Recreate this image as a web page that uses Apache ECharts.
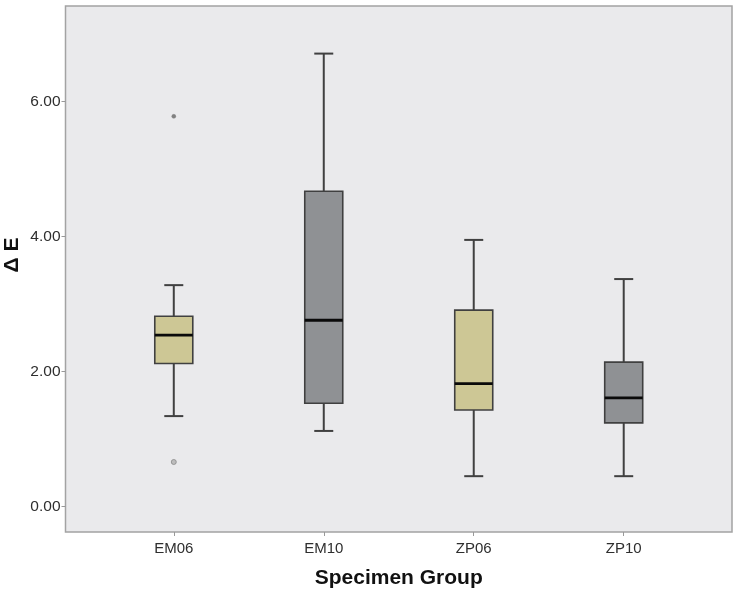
<!DOCTYPE html>
<html>
<head>
<meta charset="utf-8">
<script src="https://cdn.jsdelivr.net/npm/echarts@6/dist/echarts.min.js"></script>
<style>
html,body{margin:0;padding:0;background:#fff;}
#chart{width:738px;height:594px;}
</style>
</head>
<body>
<div id="chart"></div>
<script>
const categories = ['EM06', 'EM10', 'ZP06', 'ZP10'];
const lowWhisker  = [1.34, 1.12, 0.45, 0.45];
const q1          = [2.12, 1.53, 1.43, 1.24];
const median      = [2.54, 2.76, 1.82, 1.61];
const q3          = [2.82, 4.67, 2.91, 2.14];
const highWhisker = [3.28, 6.71, 3.95, 3.37];
const outliersCircle = [[0, 0.66]];
const outliersExtreme = [[0, 5.78]];
const yTicks = [0, 2, 4, 6];
const xTicks = [0, 1, 2, 3];
const boxFill = ['#cdc795', '#8f9194', '#cdc795', '#8f9194'];

const FONT = '"Liberation Sans", Arial, sans-serif';

const boxData = categories.map((c, i) => [i, lowWhisker[i], q1[i], median[i], q3[i], highWhisker[i]]);

const chart = echarts.init(document.getElementById('chart'), null, {renderer: 'canvas'});

const option = {
  backgroundColor: '#ffffff',
  animation: false,
  grid: {
    left: 65.5, right: 6, top: 6, bottom: 60.5,
    show: true, backgroundColor: '#eaeaec', borderColor: '#a3a3a3', borderWidth: 1.5
  },
  xAxis: {
    type: 'value', min: -0.722, max: 3.722,
    splitLine: {show: false},
    axisLine: {show: false, onZero: false},
    axisTick: {show: true, customValues: xTicks, length: 4, lineStyle: {color: '#999', width: 1}},
    axisLabel: {
      customValues: xTicks,
      formatter: v => categories[Math.round(v)] || '',
      color: '#2e2e2e', fontFamily: FONT, fontSize: 15, margin: 9
    },
    name: 'Specimen Group', nameLocation: 'middle', nameGap: 36,
    nameTextStyle: {fontFamily: FONT, fontSize: 21, fontWeight: 'bold', color: '#111'}
  },
  yAxis: {
    type: 'value', min: -0.377, max: 7.415,
    splitLine: {show: false},
    axisLine: {show: false, onZero: false},
    axisTick: {show: true, customValues: yTicks, length: 4, lineStyle: {color: '#999', width: 1}},
    axisLabel: {
      customValues: yTicks,
      formatter: v => v.toFixed(2),
      color: '#2e2e2e', fontFamily: FONT, fontSize: 15.5, margin: 5
    }
  },
  graphic: [{
    type: 'text',
    x: 12, y: 255,
    rotation: Math.PI / 2,
    style: {
      text: 'Δ E', fontFamily: FONT, fontSize: 21, fontWeight: 'bold',
      fill: '#111', align: 'center', verticalAlign: 'middle'
    }
  }],
  series: [
    {
      type: 'custom',
      data: boxData,
      renderItem: function (params, api) {
        const i = api.value(0);
        const xc = api.coord([i, 0])[0];
        const yLow = api.coord([i, api.value(1)])[1];
        const yQ1 = api.coord([i, api.value(2)])[1];
        const yMed = api.coord([i, api.value(3)])[1];
        const yQ3 = api.coord([i, api.value(4)])[1];
        const yHigh = api.coord([i, api.value(5)])[1];
        const half = 19, cap = 9.5;
        const line = '#404040';
        return {
          type: 'group',
          children: [
            {type: 'line', shape: {x1: xc, y1: yHigh, x2: xc, y2: yQ3}, style: {stroke: line, lineWidth: 2}},
            {type: 'line', shape: {x1: xc, y1: yQ1, x2: xc, y2: yLow}, style: {stroke: line, lineWidth: 2}},
            {type: 'line', shape: {x1: xc - cap, y1: yHigh, x2: xc + cap, y2: yHigh}, style: {stroke: line, lineWidth: 2}},
            {type: 'line', shape: {x1: xc - cap, y1: yLow, x2: xc + cap, y2: yLow}, style: {stroke: line, lineWidth: 2}},
            {type: 'rect', shape: {x: xc - half, y: yQ3, width: half * 2, height: yQ1 - yQ3},
              style: {fill: boxFill[i], stroke: line, lineWidth: 1.6}},
            {type: 'line', shape: {x1: xc - half, y1: yMed, x2: xc + half, y2: yMed}, style: {stroke: '#0a0a0a', lineWidth: 2.8}}
          ]
        };
      }
    },
    {
      type: 'scatter', data: outliersCircle, symbol: 'circle', symbolSize: 5,
      itemStyle: {color: '#b0b0b0', borderColor: '#8a8a8a', borderWidth: 1}
    },
    {
      type: 'scatter', data: outliersExtreme, symbol: 'circle', symbolSize: 4,
      itemStyle: {color: '#666', borderColor: '#777', borderWidth: 0.5}
    }
  ]
};
chart.setOption(option);
</script>
</body>
</html>
